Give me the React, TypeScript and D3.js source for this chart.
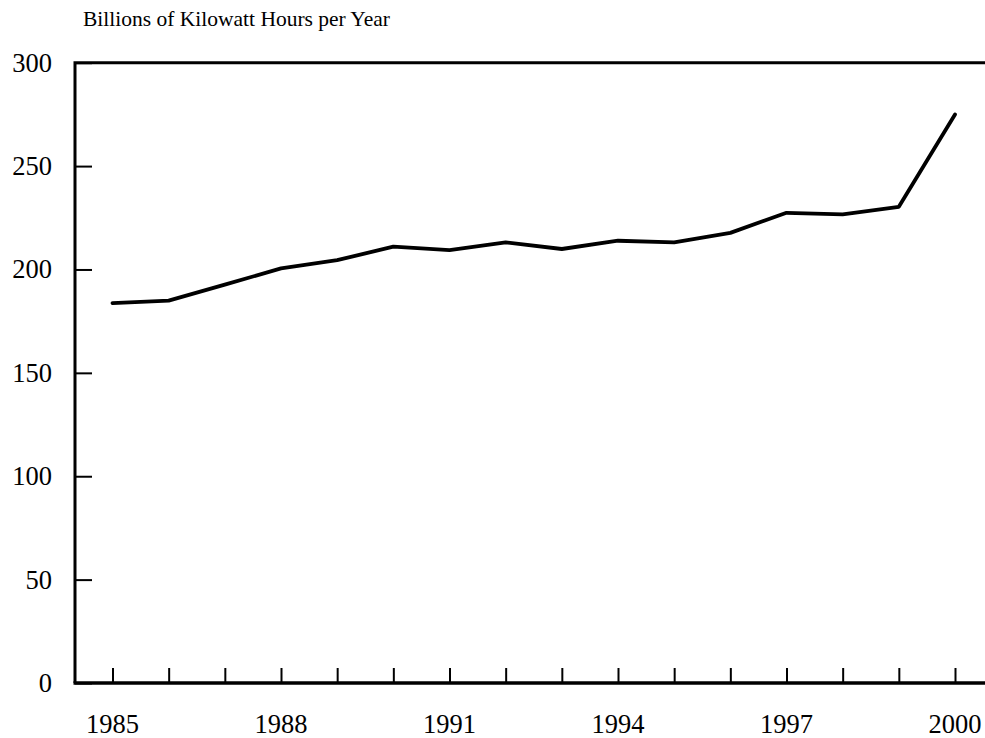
import React, { useEffect, useRef } from "react";
import { axisBottom, axisLeft, scaleLinear, select, line } from "d3";

// DATA
const years = [1985, 1986, 1987, 1988, 1989, 1990, 1991, 1992, 1993, 1994, 1995, 1996, 1997, 1998, 1999, 2000];
const generation = [183.7, 184.9, 192.7, 200.5, 204.5, 211, 209.4, 213.1, 209.9, 213.9, 213.1, 217.7, 227.4, 226.6, 230.3, 275];
const yTicks = [0, 50, 100, 150, 200, 250, 300];
const xLabelYears = [1985, 1988, 1991, 1994, 1997, 2000];
const title = "Billions of Kilowatt Hours per Year";

const App = () => {
  const svgRef = useRef<SVGSVGElement>(null);

  const width = 985;
  const height = 738;
  const left = 75;
  const right = 985;
  const top = 62.7;
  const bottom = 683;

  useEffect(() => {
    const svg = select(svgRef.current);
    const font = "'Liberation Serif', 'Times New Roman', serif";

    // SCALES
    const xScale = scaleLinear().domain([1985, 2000]).range([112.5, 955]);
    const yScale = scaleLinear().domain([0, 300]).range([bottom, top]);

    // Y AXIS (ticks point inward, labels drawn separately)
    const yAxis = axisLeft(yScale)
      .tickValues(yTicks)
      .tickSize(-17)
      .tickSizeOuter(0)
      .tickFormat(() => "");

    const yG = svg
      .select<SVGGElement>(".y-axis")
      .attr("transform", `translate(${left},0)`)
      .call(yAxis);
    yG.select(".domain").remove();
    yG.selectAll("line").attr("stroke", "#000").attr("stroke-width", 2);

    svg
      .select(".y-labels")
      .selectAll("text")
      .data(yTicks)
      .join("text")
      .attr("x", 52)
      .attr("y", d => yScale(d) + 9)
      .attr("text-anchor", "end")
      .attr("font-family", font)
      .attr("font-size", 26.5)
      .attr("fill", "#000")
      .text(d => d);

    // X AXIS (ticks every year pointing up)
    const xAxis = axisBottom(xScale)
      .tickValues(years)
      .tickSize(-15)
      .tickSizeOuter(0)
      .tickFormat(() => "");

    const xG = svg
      .select<SVGGElement>(".x-axis")
      .attr("transform", `translate(0,${bottom})`)
      .call(xAxis);
    xG.select(".domain").remove();
    xG.selectAll("line").attr("stroke", "#000").attr("stroke-width", 2);

    svg
      .select(".x-labels")
      .selectAll("text")
      .data(xLabelYears)
      .join("text")
      .attr("x", d => xScale(d))
      .attr("y", 733)
      .attr("text-anchor", "middle")
      .attr("font-family", font)
      .attr("font-size", 26.5)
      .attr("fill", "#000")
      .text(d => d);

    // FRAME: left, top, bottom
    svg
      .select(".frame")
      .selectAll("path")
      .data([
        `M${left},${bottom}V${top}H${right}`,
        `M${left - 1.5},${bottom}H${right}`,
      ])
      .join("path")
      .attr("d", d => d)
      .attr("fill", "none")
      .attr("stroke", "#000")
      .attr("stroke-width", (d, i) => (i === 0 ? 3 : 3.5));

    // LINE
    const lineGen = line<number>()
      .x((d, i) => xScale(years[i]))
      .y(d => yScale(d));

    svg
      .select(".series")
      .selectAll("path")
      .data([generation])
      .join("path")
      .attr("d", d => lineGen(d))
      .attr("fill", "none")
      .attr("stroke", "#000")
      .attr("stroke-width", 3.8)
      .attr("stroke-linejoin", "round")
      .attr("stroke-linecap", "round");

    svg
      .select(".title")
      .attr("x", 83)
      .attr("y", 26)
      .attr("font-family", font)
      .attr("font-size", 21.5)
      .attr("fill", "#000")
      .text(title);
  }, []);

  return (
    <svg
      ref={svgRef}
      width={width}
      height={height}
      style={{ position: "absolute", left: 0, top: 0, background: "#fff" }}
    >
      <text className="title" />
      <g className="y-axis" />
      <g className="x-axis" />
      <g className="frame" />
      <g className="y-labels" />
      <g className="x-labels" />
      <g className="series" />
    </svg>
  );
};

export default App;
